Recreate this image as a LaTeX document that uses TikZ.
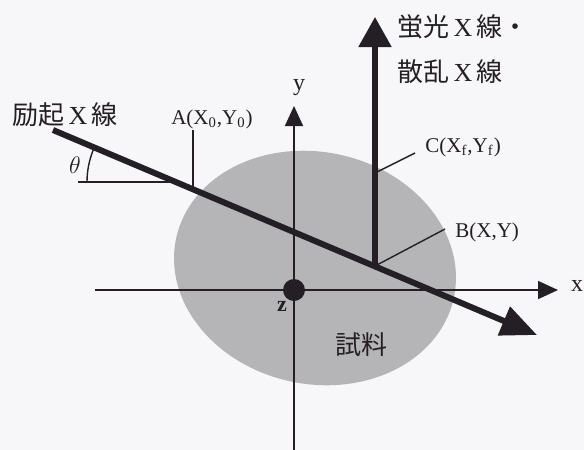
\documentclass[tikz,border=0pt]{standalone}
\usepackage{fontspec}
\setmainfont{Liberation Serif}
\newfontfamily\jpfont{Noto Sans CJK JP}
\usetikzlibrary{arrows.meta}

\definecolor{paper}{HTML}{F7F6F8}
\definecolor{sample}{HTML}{B5B5B7}
\definecolor{ink}{HTML}{231F24}

\begin{document}
\begin{tikzpicture}[x=0.5pt, y=-0.5pt,
    axis/.style={draw=ink, line width=0.8pt, -{Triangle[length=10pt, width=9pt]}},
    beam/.style={draw=ink, line width=3pt, -{Triangle[length=18pt, width=15pt]}},
    emit/.style={draw=ink, line width=2.6pt, -{Triangle[length=15pt, width=16pt]}},
    leader/.style={draw=ink, line width=0.7pt},
    dot/.style={circle, fill=ink, minimum size=11pt, inner sep=0pt},
    lbl/.style={font=\fontsize{10.5}{12}\selectfont, text=ink, inner sep=0pt},
    jlbl/.style={font=\fontsize{13}{15}\selectfont, text=ink, inner sep=0pt}]

    % Paper and sample
    \useasboundingbox (0,0) rectangle (584,450);
    \fill[paper] (0,0) rectangle (584,450);
    \fill[sample, rotate around={-12:(315,268)}] (315,268) ellipse [x radius=142, y radius=116];
    \node[jlbl] (smp) at (361,345) {\jpfont 試料};

    % Axes
    \coordinate (xl) at (95,290);
    \coordinate (xr) at (558,290);
    \coordinate (yb) at (294,450);
    \coordinate (yt) at (294,106);
    \draw[axis] (xl) -- (xr);
    \draw[axis] (yb) -- (yt);
    \node[lbl, font=\fontsize{12}{14}\selectfont] (xlab) at (577,286) {x};
    \node[lbl, font=\fontsize{12}{14}\selectfont] (ylab) at (299,88) {y};
    \node[dot] (z) at (294,290) {};
    \node[lbl, font=\bfseries\fontsize{11}{13}\selectfont] (zlab) at (282,306) {z};

    % Excitation beam and emitted beam
    \coordinate (src) at (53,130);
    \coordinate (dst) at (537,335);
    \coordinate (A) at (193,189);
    \coordinate (B) at (375,266);
    \coordinate (C) at (375,173);
    \coordinate (top) at (375,17);
    \coordinate (vx) at (172,182);
    \draw[beam] (src) -- (dst);
    \draw[emit] (B) -- (top);

    % Angle
    \coordinate (hl) at (78,182);
    \draw[leader] (hl) -- (vx);
    \draw[leader] (vx) ++(-85,0) arc[start angle=180, end angle=202, radius=85];
    \node[lbl, font=\itshape\fontsize{12}{14}\selectfont] (th) at (75,165) {$\theta$};

    % Point labels
    \coordinate (At) at (193,130);
    \draw[leader] (A) -- (At);
    \node[lbl, anchor=base] (Alab) at (212,124) {A(X\textsubscript{0},Y\textsubscript{0})};
    \coordinate (Ct) at (415,153);
    \draw[leader] (C) -- (Ct);
    \node[lbl, anchor=base west] (Clab) at (425,152) {C(X\textsubscript{f},Y\textsubscript{f})};
    \coordinate (Bt) at (445,229);
    \draw[leader] (B) -- (Bt);
    \node[lbl, anchor=base west] (Blab) at (455,237) {B(X,Y)};

    % Beam names
    \node[jlbl, anchor=west] (exc) at (12,115) {{\jpfont 励起}\,X\,{\jpfont 線}};
    \node[jlbl, anchor=west] (flu) at (397,27) {{\jpfont 蛍光}\,X\,{\jpfont 線・}};
    \node[jlbl, anchor=west] (sca) at (397,72) {{\jpfont 散乱}\,X\,{\jpfont 線}};
\end{tikzpicture}
\end{document}
